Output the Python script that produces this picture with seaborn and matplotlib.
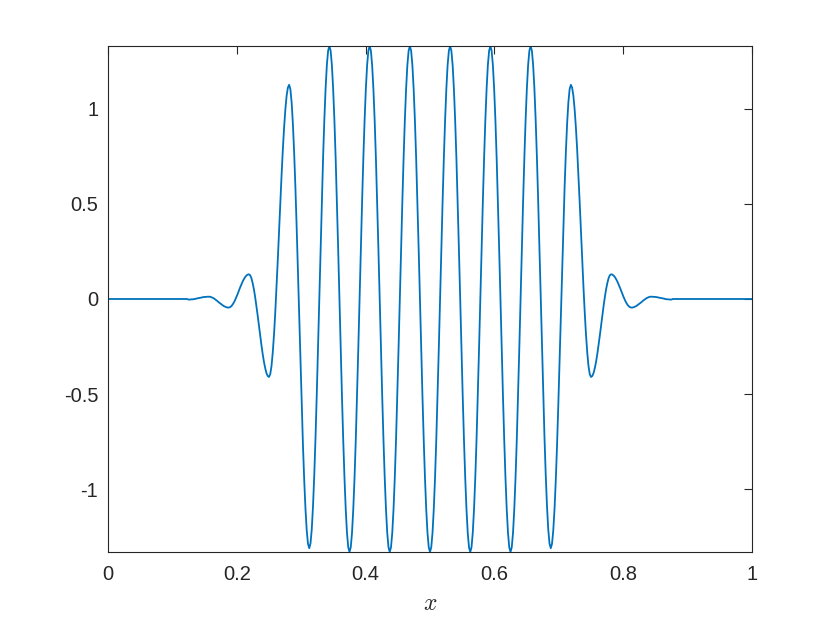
import numpy as np
import pandas as pd
import seaborn as sns
import matplotlib
matplotlib.use("Agg")
import matplotlib.pyplot as plt

# Wartosci, krok 1/512 na osi x
n_points = 513
zero_tail = [0.0] * 64
y_middle = [
    -0.003, -0.003, -0.002, -0.002, -0.001, 0.000, 0.002, 0.003, 0.005, 0.006, 0.007, 0.009, 0.010, 0.011, 0.011, 0.012,
    0.012, 0.012, 0.010, 0.007, 0.004, -0.001, -0.006, -0.011, -0.017, -0.022, -0.027, -0.032, -0.037, -0.040, -0.043, -0.045,
    -0.045, -0.043, -0.038, -0.030, -0.019, -0.006, 0.009, 0.025, 0.043, 0.060, 0.076, 0.091, 0.104, 0.115, 0.123, 0.128,
    0.130, 0.125, 0.110, 0.084, 0.051, 0.010, -0.037, -0.087, -0.140, -0.193, -0.243, -0.290, -0.331, -0.364, -0.390, -0.405,
    -0.410, -0.395, -0.352, -0.280, -0.185, -0.069, 0.064, 0.208, 0.358, 0.508, 0.652, 0.785, 0.901, 0.996, 1.068, 1.111,
    1.126, 1.103, 1.033, 0.920, 0.769, 0.585, 0.375, 0.146, -0.092, -0.330, -0.559, -0.769, -0.953, -1.104, -1.217, -1.287,
    -1.310, -1.285, -1.210, -1.087, -0.923, -0.724, -0.496, -0.247, 0.010, 0.267, 0.516, 0.744, 0.943, 1.107, 1.230, 1.305,
    1.330, 1.305, 1.229, 1.105, 0.940, 0.739, 0.509, 0.259, 0.000, -0.259, -0.509, -0.739, -0.940, -1.105, -1.229, -1.305,
    -1.330, -1.305, -1.229, -1.105, -0.940, -0.739, -0.509, -0.259, 0.000, 0.259, 0.509, 0.739, 0.940, 1.105, 1.229, 1.305,
    1.330, 1.305, 1.229, 1.105, 0.940, 0.739, 0.509, 0.259, 0.000, -0.259, -0.509, -0.739, -0.940, -1.105, -1.229, -1.305,
    -1.330, -1.305, -1.229, -1.105, -0.940, -0.739, -0.509, -0.259, 0.000, 0.259, 0.509, 0.739, 0.940, 1.105, 1.229, 1.305,
    1.330, 1.305, 1.229, 1.105, 0.940, 0.739, 0.509, 0.259, 0.000, -0.259, -0.509, -0.739, -0.940, -1.105, -1.229, -1.305,
    -1.330, -1.305, -1.229, -1.105, -0.940, -0.739, -0.509, -0.259, 0.000, 0.259, 0.509, 0.739, 0.940, 1.105, 1.229, 1.305,
    1.330, 1.305, 1.229, 1.105, 0.940, 0.739, 0.509, 0.259, 0.000, -0.259, -0.509, -0.739, -0.940, -1.105, -1.229, -1.305,
    -1.330, -1.305, -1.229, -1.105, -0.940, -0.739, -0.509, -0.259, 0.000, 0.259, 0.509, 0.739, 0.940, 1.105, 1.229, 1.305,
    1.330, 1.305, 1.229, 1.105, 0.940, 0.739, 0.509, 0.259, 0.000, -0.259, -0.509, -0.739, -0.940, -1.105, -1.229, -1.305,
    -1.330, -1.305, -1.229, -1.105, -0.940, -0.739, -0.509, -0.259, 0.000, 0.259, 0.509, 0.739, 0.940, 1.105, 1.229, 1.305,
    1.330, 1.305, 1.230, 1.107, 0.943, 0.744, 0.516, 0.267, 0.010, -0.247, -0.496, -0.724, -0.923, -1.087, -1.210, -1.285,
    -1.310, -1.287, -1.217, -1.104, -0.953, -0.769, -0.559, -0.330, -0.092, 0.146, 0.375, 0.585, 0.769, 0.920, 1.033, 1.103,
    1.126, 1.111, 1.068, 0.996, 0.901, 0.785, 0.652, 0.508, 0.358, 0.208, 0.064, -0.069, -0.185, -0.280, -0.352, -0.395,
    -0.410, -0.405, -0.390, -0.364, -0.331, -0.290, -0.243, -0.193, -0.140, -0.087, -0.037, 0.010, 0.051, 0.084, 0.110, 0.125,
    0.130, 0.128, 0.123, 0.115, 0.104, 0.091, 0.076, 0.060, 0.043, 0.025, 0.009, -0.006, -0.019, -0.030, -0.038, -0.043,
    -0.045, -0.045, -0.043, -0.040, -0.037, -0.032, -0.027, -0.022, -0.017, -0.011, -0.006, -0.001, 0.004, 0.007, 0.010, 0.012,
    0.012, 0.012, 0.011, 0.011, 0.010, 0.009, 0.007, 0.006, 0.005, 0.003, 0.002, 0.000, -0.001, -0.002, -0.002, -0.003,
    -0.003,
]
x_ticks = [0, 0.2, 0.4, 0.6, 0.8, 1]
x_tick_labels = ["0", "0.2", "0.4", "0.6", "0.8", "1"]
y_ticks = [-1, -0.5, 0, 0.5, 1]
y_tick_labels = ["-1", "-0.5", "0", "0.5", "1"]

df = pd.DataFrame({
    "x": np.linspace(0, 1, n_points),
    "y": zero_tail + y_middle + zero_tail,
})

sns.set_style("white")
plt.rcParams["font.family"] = ["Liberation Sans", "DejaVu Sans"]
plt.rcParams["mathtext.fontset"] = "cm"

dark = "#262626"
fig = plt.figure(figsize=(8.3, 6.22), dpi=100)
ax = fig.add_axes([108 / 830, 1 - 552 / 622, 644 / 830, 506 / 622])

sns.lineplot(data=df, x="x", y="y", sort=False, estimator=None,
             color="#0072BD", linewidth=1.3, ax=ax)

ax.set_xlim(0, 1)
ax.set_ylim(-1.33, 1.33)
ax.set_xticks(x_ticks)
ax.set_xticklabels(x_tick_labels)
ax.set_yticks(y_ticks)
ax.set_yticklabels(y_tick_labels)
ax.tick_params(direction="in", length=6, width=0.8, colors=dark,
               labelsize=14.5, top=True, right=True, pad=9)
ax.tick_params(axis="y", pad=7)
for s in ax.spines.values():
    s.set_color(dark)
    s.set_linewidth(0.8)
    s.set_visible(True)

ax.set_xlabel("$x$", fontsize=17, color=dark, labelpad=7)
ax.set_ylabel("")

fig.savefig("out.png", dpi=100)
